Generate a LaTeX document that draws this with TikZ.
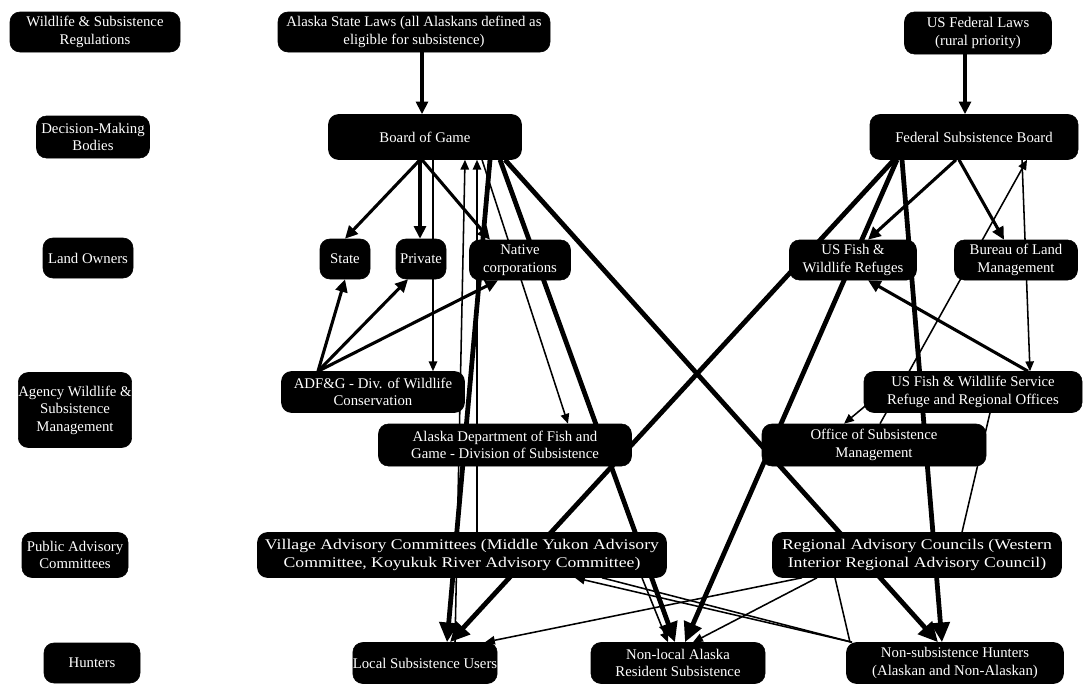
\documentclass[tikz,border=0pt]{standalone}
\usepackage{fontspec}
\setmainfont{Liberation Serif}
\usetikzlibrary{arrows.meta,calc}
\pgfdeclarelayer{bg}
\pgfsetlayers{bg,main}
\begin{document}
\begin{tikzpicture}[x=0.025cm,y=-0.025cm,
  box/.style={draw=black, fill=black, text=white, rounded corners=7pt, align=center,
    inner sep=0pt, font=\fontsize{10.5}{12.5}\selectfont},
  sz/.style 2 args={minimum width=#1*0.025cm, minimum height=#2*0.025cm},
  th/.style={line width=3.4pt, -{Triangle[length=14pt,width=13pt]}},
  md/.style={line width=2.2pt, -{Triangle[length=9pt,width=8.5pt]}},
  tn/.style={line width=1.1pt, -{Triangle[length=7pt,width=6pt]}},
  ln/.style={line width=1.1pt}]
\useasboundingbox (0,0) rectangle (1086,684);
% left labels
\node[box, sz={170}{40}] (lab1) at (95,32) {Wildlife \& Subsistence\\Regulations};
\node[box, sz={113}{42}] (lab2) at (93,137) {Decision-Making\\Bodies};
\node[box, sz={90}{40}] (lab3) at (88,258) {Land Owners};
\node[box, sz={100}{75}] (lab4) at (75,410) {Agency Wildlife \&\\Subsistence\\Management};
\node[box, sz={106}{45}] (lab5) at (75,555) {Public Advisory\\Committees};
\node[box, sz={96}{40}] (lab6) at (92,663) {Hunters};
% main boxes
\node[box, sz={272}{40}] (asl) at (414,32) {Alaska State Laws (all Alaskans defined as\\eligible for subsistence)};
\node[box, sz={147}{42}] (usf) at (978,33) {US Federal Laws\\(rural priority)};
\node[box, sz={193}{45}] (bog) at (425,137) {Board of Game};
\node[box, sz={208}{45}] (fsb) at (974,137) {Federal Subsistence Board};
\node[box, sz={50}{40}] (state) at (345,259) {State};
\node[box, sz={50}{40}] (private) at (421,259) {Private};
\node[box, sz={101}{40}] (native) at (520,260) {Native\\corporations};
\node[box, sz={127}{40}] (refuges) at (853,260) {US Fish \&\\Wildlife Refuges};
\node[box, sz={123}{40}] (blm) at (1016,260) {Bureau of Land\\Management};
\node[box, sz={183}{41}] (adfgwc) at (373,392) {ADF\&G - Div. of Wildlife\\Conservation};
\node[box, sz={253}{42}] (adfgsub) at (505,445) {Alaska Department of Fish and\\Game - Division of Subsistence};
\node[box, sz={218}{41}] (fwsro) at (973,392) {US Fish \& Wildlife Service\\Refuge and Regional Offices};
\node[box, sz={224}{42}] (osm) at (874,445) {Office of Subsistence\\Management};
\node[box, sz={409}{45}] (vac) at (462,555) {\scalebox{1.2}[1]{Village Advisory Committees (Middle Yukon Advisory}\\\scalebox{1.2}[1]{Committee, Koyukuk River Advisory Committee)}};
\node[box, sz={289}{45}] (rac) at (917,555) {\scalebox{1.2}[1]{Regional Advisory Councils (Western}\\\scalebox{1.2}[1]{Interior Regional Advisory Council)}};
\node[box, sz={131}{41}] (local) at (425,663) {Local Subsistence Users};
\node[box, sz={174}{41}] (nonlocal) at (678,663) {Non-local Alaska\\Resident Subsistence};
\node[box, sz={217}{41}] (nonres) at (955,663) {Non-subsistence Hunters\\(Alaskan and Non-Alaskan)};
\begin{pgfonlayer}{bg}
% laws to decision bodies
\draw[md] ($(asl.south)+(8,0)$) -- ($(bog.north)+(-3,0)$);
\draw[md] ($(usf.south)+(-13,0)$) -- ($(fsb.north)+(-9,0)$);
% Board of Game
\draw[md] ($(bog.south)+(-5,0)$) -- (state.north);
\draw[md] ($(bog.south)+(-5,0)$) -- ($(private.north)+(-1,0)$);
\draw[md] ($(bog.south)+(-3,0)$) -- ($(native.north)+(-30,0)$);
\draw[tn] ($(bog.south)+(8,0)$) -- ($(adfgwc.north)+(60,0)$);
\draw[tn] ($(bog.south)+(57,0)$) -- ($(adfgsub.north)+(63,0)$);
\draw[th] ($(bog.south)+(65,0)$) -- ($(local.north)+(22,0)$);
\draw[th] ($(bog.south)+(75,0)$) -- ($(nonlocal.north)+(-3,0)$);
\draw[th] ($(bog.south)+(80,0)$) -- ($(nonres.north)+(-17,0)$);
\draw[tn] ($(local.north)+(30,0)$) -- ($(bog.south)+(40,0)$);
\draw[tn] ($(vac.north)+(15,0)$) -- ($(bog.south)+(52,0)$);
% Federal Subsistence Board
\draw[th] ($(fsb.south)+(-80,0)$) -- ($(local.north)+(25,0)$);
\draw[th] ($(fsb.south)+(-77,0)$) -- ($(nonlocal.north)+(7,0)$);
\draw[th] ($(fsb.south)+(-72,0)$) -- ($(nonres.north)+(-13,0)$);
\draw[md] ($(fsb.south)+(-18,0)$) -- ($(refuges.north)+(15,0)$);
\draw[md] ($(fsb.south)+(-15,0)$) -- ($(blm.north)+(-12,0)$);
\draw[tn] ($(fsb.south)+(48,0)$) -- ($(fwsro.north)+(57,0)$);
\draw[tn] ($(osm.north)+(6,0)$) -- ($(fsb.south)+(53,0)$);
\draw[md] ($(fwsro.north)+(55,0)$) -- ($(refuges.south)+(15,0)$);
\draw[tn] ($(fwsro.center)+(-85,-5)$) -- ($(osm.north)+(-30,0)$);
\draw[ln] ($(fwsro.south)+(17,0)$) -- ($(rac.north)+(45,0)$);
% ADF&G to land owners
\draw[md] ($(adfgwc.north)+(-55,0)$) -- (state.south);
\draw[md] ($(adfgwc.north)+(-55,0)$) -- ($(private.south)+(-13,0)$);
\draw[md] ($(adfgwc.north)+(-55,0)$) -- ($(native.south)+(-22,0)$);
% advisory committees and hunters
\draw[tn] ($(vac.south)+(180,0)$) -- ($(nonlocal.north)+(-10,0)$);
\draw[ln] ($(vac.south)+(140,0)$) -- ($(nonres.north)+(-103,0)$);
\draw[tn] ($(rac.south)+(-115,0)$) -- ($(local.north)+(60,0)$);
\draw[tn] ($(rac.south)+(-100,0)$) -- ($(nonlocal.north)+(15,0)$);
\draw[ln] ($(rac.south)+(-82,0)$) -- ($(nonres.north)+(-105,0)$);
\draw[tn] ($(nonres.north)+(-103,0)$) -- ($(vac.south)+(113,0)$);
\end{pgfonlayer}
\end{tikzpicture}
\end{document}
